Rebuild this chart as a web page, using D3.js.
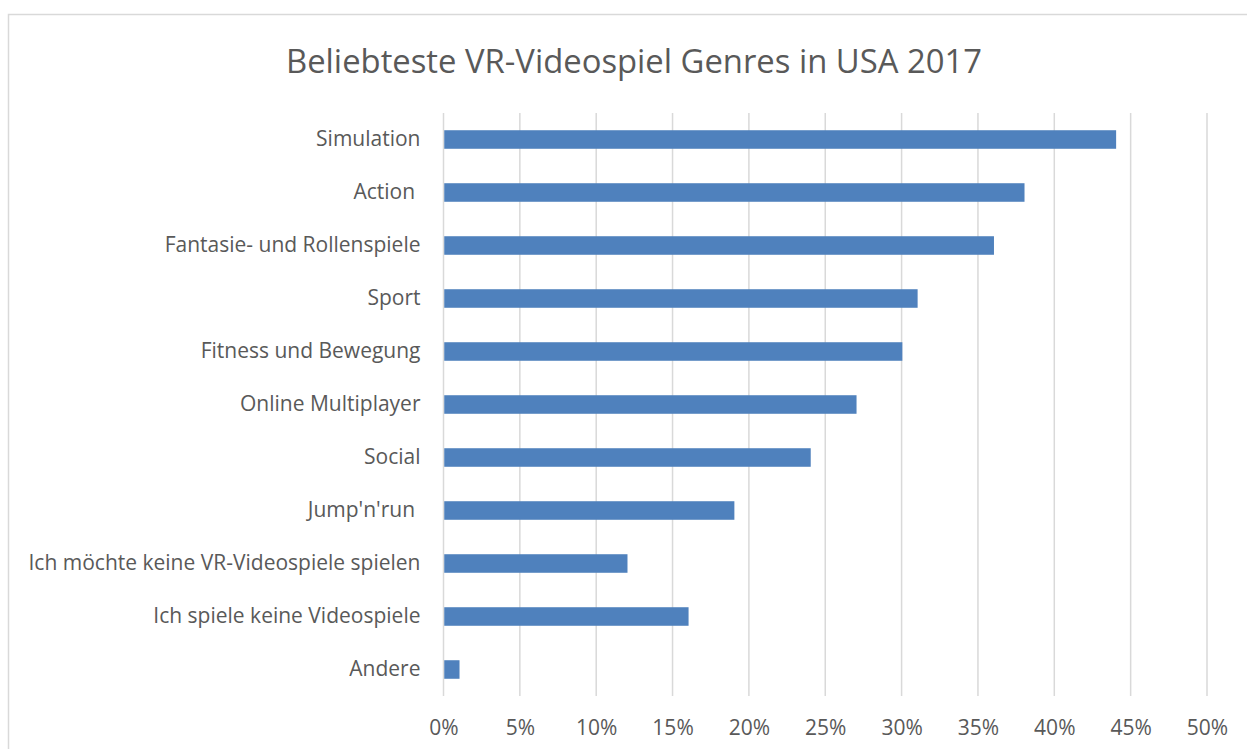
<!DOCTYPE html>
<html>
<head>
<meta charset="utf-8">
<script src="https://cdn.jsdelivr.net/npm/d3@7"></script>
<style>
  html, body { margin: 0; padding: 0; background: #fff; }
  svg { display: block; }
  text { font-family: "Open Sans", Lato, sans-serif; fill: #595959; }
</style>
</head>
<body>
<svg id="chart" width="1247" height="749"></svg>
<script>
// Genres, top to bottom
const genres = [
  "Simulation",
  "Action ",
  "Fantasie- und Rollenspiele",
  "Sport",
  "Fitness und Bewegung",
  "Online Multiplayer",
  "Social",
  "Jump'n'run ",
  "Ich möchte keine VR-Videospiele spielen",
  "Ich spiele keine Videospiele",
  "Andere"
];
// Share of respondents (%)
const shares = [44, 38, 36, 31, 30, 27, 24, 19, 12, 16, 1];
// Axis ticks (%)
const tickValues = [0, 5, 10, 15, 20, 25, 30, 35, 40, 45, 50];
const title = "Beliebteste VR-Videospiel Genres in USA 2017";

const data = genres.map((g, i) => ({ genre: g, value: shares[i] }));

const svg = d3.select("#chart");

// Chart frame
svg.append("rect")
  .attr("x", 8.5).attr("y", 14.5)
  .attr("width", 1300).attr("height", 800)
  .attr("fill", "#fff")
  .attr("stroke", "#d9d9d9")
  .attr("stroke-width", 1.5);

const plot = { left: 443.5, right: 1207, top: 113, bottom: 696 };

const x = d3.scaleLinear().domain([0, 50]).range([plot.left, plot.right]);
const y = d3.scaleBand()
  .domain(genres)
  .range([plot.top, plot.bottom])
  .paddingInner(0.65)
  .paddingOuter(0.325);

// Title
svg.append("text")
  .attr("x", 634).attr("y", 73)
  .attr("text-anchor", "middle")
  .style("font-size", "32.8px")
  .text(title);

// Vertical gridlines
svg.append("g")
  .selectAll("line")
  .data(tickValues)
  .join("line")
  .attr("x1", d => x(d)).attr("x2", d => x(d))
  .attr("y1", plot.top).attr("y2", plot.bottom)
  .attr("stroke", "#d9d9d9")
  .attr("stroke-width", 1.5);

// Bars
svg.append("g")
  .selectAll("rect")
  .data(data)
  .join("rect")
  .attr("x", x(0) + 0.75)
  .attr("y", d => y(d.genre))
  .attr("width", d => x(d.value) - x(0))
  .attr("height", y.bandwidth())
  .attr("fill", "#4f81bd");

// Category axis
const yAxis = svg.append("g")
  .attr("transform", `translate(${plot.left},0)`)
  .call(d3.axisLeft(y).tickSize(0).tickPadding(23));
yAxis.select(".domain").remove();
yAxis.selectAll("text")
  .style("font-size", "21px")
  .style("white-space", "pre")
  .attr("fill", "#595959");

// Value axis
const xAxis = svg.append("g")
  .attr("transform", `translate(0,${plot.bottom})`)
  .call(d3.axisBottom(x).tickValues(tickValues).tickSize(0).tickPadding(24)
    .tickFormat(d => d + "%"));
xAxis.select(".domain").remove();
xAxis.selectAll("text")
  .style("font-size", "21px")
  .attr("fill", "#595959");
</script>
</body>
</html>
